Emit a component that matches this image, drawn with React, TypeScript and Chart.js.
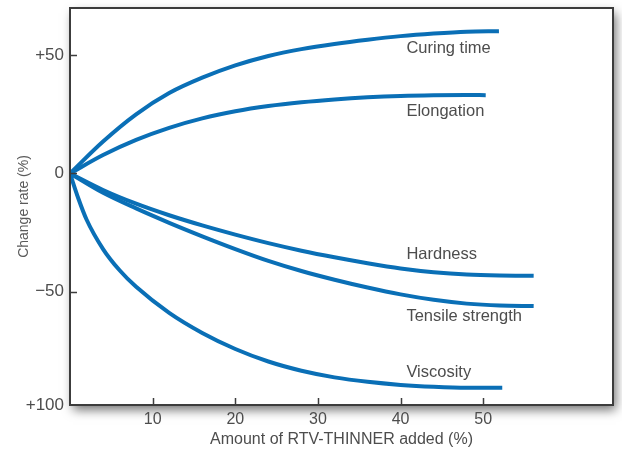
import React, { useEffect, useRef } from "react";
import { Chart, registerables } from "chart.js";

Chart.register(...registerables);

// ---- data ----
const curingX = [0, 4, 8, 12, 16, 20, 24, 28, 32, 36, 40, 44, 48, 51.9];
const curingY = [0, 13.5, 25.0, 34.0, 40.5, 45.7, 49.7, 52.6, 54.8, 56.6, 58.1, 59.2, 60.0, 60.2];

const elongX = [0, 4, 8, 12, 16, 20, 24, 28, 32, 36, 40, 44, 48, 50.3];
const elongY = [0, 7.8, 14.2, 19.3, 23.3, 26.3, 28.5, 30.1, 31.3, 32.2, 32.8, 33.1, 33.2, 33.1];

const hardX = [0, 4, 8, 12, 16, 20, 24, 28, 32, 36, 40, 44, 48, 52, 56.1];
const hardY = [0, -7.0, -12.8, -17.7, -22.0, -25.9, -29.5, -32.7, -35.5, -38.0, -40.2, -41.8, -42.8, -43.2, -43.3];

const tensX = [0, 4, 8, 12, 16, 20, 24, 28, 32, 36, 40, 44, 48, 52, 56.1];
const tensY = [0, -8.2, -14.8, -20.9, -26.6, -32.0, -37.0, -41.3, -45.0, -48.3, -51.2, -53.5, -55.1, -55.9, -56.1];

const viscX = [0, 1, 2, 4, 6, 8, 12, 16, 20, 24, 28, 32, 36, 40, 44, 48, 52.3];
const viscY = [0, -10.5, -19.5, -32.0, -41.0, -48.0, -59.0, -67.5, -74.3, -79.6, -83.5, -86.3, -88.2, -89.5, -90.3, -90.7, -90.7];

const seriesNames = ["Curing time", "Elongation", "Hardness", "Tensile strength", "Viscosity"];
const labelX = [40.7, 40.7, 40.7, 40.7, 40.7];
const labelY = [52.8, 26.2, -34.2, -60.5, -84.2];

const xTickValues = [10, 20, 30, 40, 50];
const yTickValues = [50, 0, -50, -98];
const yTickLabels = ["+50", "0", "\u221250", "+100"];

const xMin = 0;
const xMax = 65.7;
const yMin = -98;
const yMax = 70;

const FONT = "'Liberation Sans', Arial, sans-serif";
const TEXT = "#4d4d4d";
const LINE = "#0a6fb6";
const FRAME = "#3c3c3c";

const toPts = (xs: number[], ys: number[]) => xs.map((x, i) => ({ x, y: ys[i] }));

const framePlugin = {
  id: "framePlugin",
  beforeDraw(chart: any) {
    const { ctx, chartArea: a } = chart;
    ctx.save();
    ctx.fillStyle = "#ffffff";
    ctx.fillRect(0, 0, chart.width, chart.height);
    ctx.shadowColor = "rgba(0,0,0,0.55)";
    ctx.shadowBlur = 10;
    ctx.shadowOffsetX = 3;
    ctx.shadowOffsetY = 5;
    ctx.fillRect(a.left, a.top, a.right - a.left, a.bottom - a.top);
    ctx.restore();
  },
  afterDatasetsDraw(chart: any) {
    const { ctx, chartArea: a, scales } = chart;
    ctx.save();
    ctx.strokeStyle = FRAME;
    ctx.lineWidth = 2;
    ctx.strokeRect(a.left, a.top, a.right - a.left, a.bottom - a.top);
    ctx.lineWidth = 1.5;
    ctx.beginPath();
    xTickValues.forEach((v) => {
      const px = Math.round(scales.x.getPixelForValue(v)) + 0.5;
      ctx.moveTo(px, a.bottom);
      ctx.lineTo(px, a.bottom - 7);
    });
    yTickValues.slice(0, 3).forEach((v) => {
      const py = Math.round(scales.y.getPixelForValue(v)) + 0.5;
      ctx.moveTo(a.left, py);
      ctx.lineTo(a.left + 7, py);
    });
    ctx.stroke();

    ctx.fillStyle = TEXT;
    ctx.font = `16.5px ${FONT}`;
    ctx.textAlign = "left";
    ctx.textBaseline = "middle";
    seriesNames.forEach((name, i) => {
      ctx.fillText(name, scales.x.getPixelForValue(labelX[i]), scales.y.getPixelForValue(labelY[i]));
    });
    ctx.restore();
  },
};

export default function App() {
  const ref = useRef<HTMLCanvasElement | null>(null);

  useEffect(() => {
    if (!ref.current) return;
    const ds = (xs: number[], ys: number[], label: string) => ({
      label,
      data: toPts(xs, ys),
      borderColor: LINE,
      borderWidth: 4,
      pointRadius: 0,
      fill: false,
      cubicInterpolationMode: "monotone" as const,
    });
    const chart = new Chart(ref.current, {
      type: "line",
      data: {
        datasets: [
          ds(curingX, curingY, seriesNames[0]),
          ds(elongX, elongY, seriesNames[1]),
          ds(hardX, hardY, seriesNames[2]),
          ds(tensX, tensY, seriesNames[3]),
          ds(viscX, viscY, seriesNames[4]),
        ],
      },
      options: {
        animation: false,
        responsive: true,
        maintainAspectRatio: false,
        layout: { padding: { left: 0, top: 8, right: 9, bottom: 0 } },
        plugins: { legend: { display: false }, tooltip: { enabled: false } },
        scales: {
          x: {
            type: "linear",
            min: xMin,
            max: xMax,
            grid: { display: false, drawTicks: false },
            border: { display: false },
            afterBuildTicks: (s: any) => {
              s.ticks = xTickValues.map((v) => ({ value: v }));
            },
            afterFit: (s: any) => {
              s.height = 47;
              s.paddingLeft = 0;
              s.paddingRight = 0;
            },
            ticks: {
              padding: 5,
              color: TEXT,
              font: { family: FONT, size: 16 },
              maxRotation: 0,
              callback: (v: any) => String(v),
            },
            title: {
              display: true,
              text: "Amount of RTV-THINNER added (%)",
              color: TEXT,
              font: { family: FONT, size: 16 },
              padding: { top: 0, bottom: 3 },
            },
          },
          y: {
            type: "linear",
            min: yMin,
            max: yMax,
            grid: { display: false, drawTicks: false },
            border: { display: false },
            afterBuildTicks: (s: any) => {
              s.ticks = yTickValues.map((v) => ({ value: v }));
            },
            afterFit: (s: any) => {
              s.width = 70;
              s.paddingTop = 0;
              s.paddingBottom = 0;
            },
            ticks: {
              padding: 6,
              color: TEXT,
              font: { family: FONT, size: 17 },
              callback: (v: any) => {
                const i = yTickValues.indexOf(Number(v));
                return i >= 0 ? yTickLabels[i] : "";
              },
            },
            title: {
              display: true,
              text: "Change rate (%)",
              color: "#5a5a5a",
              font: { family: FONT, size: 14 },
              padding: { top: 16, bottom: 0 },
            },
          },
        },
      },
      plugins: [framePlugin],
    });
    return () => chart.destroy();
  }, []);

  return (
    <div style={{ position: "fixed", left: 0, top: 0, width: 622, height: 452, background: "#fff" }}>
      <canvas ref={ref} />
    </div>
  );
}
